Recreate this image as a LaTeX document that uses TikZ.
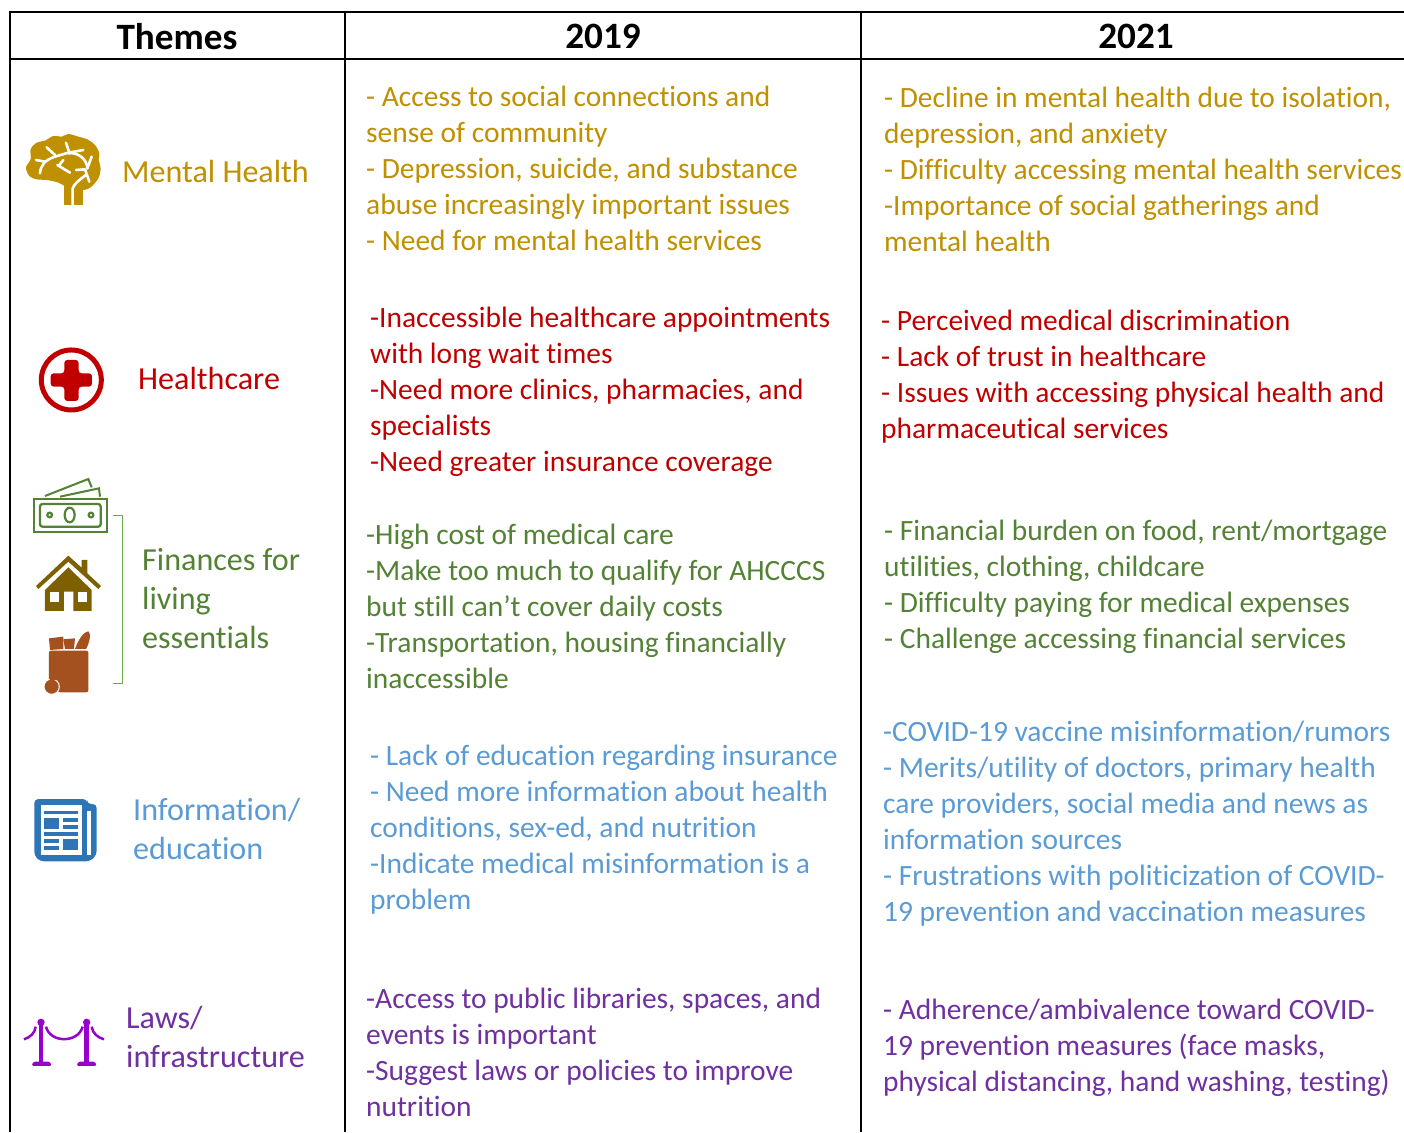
\documentclass[tikz,border=0pt]{standalone}
\usepackage{fontspec}
\setmainfont[Ligatures=NoCommon]{Carlito}
\definecolor{cgold}{HTML}{BF9000}
\definecolor{cred}{HTML}{C00000}
\definecolor{cgreen}{HTML}{548235}
\definecolor{cblue}{HTML}{5B9BD5}
\definecolor{cpurple}{HTML}{7030A0}
\definecolor{ihouse}{HTML}{7F6000}
\definecolor{ibag}{HTML}{A5501F}
\definecolor{inews}{HTML}{2E75B6}
\definecolor{iropes}{HTML}{9900CC}
\definecolor{ibrack}{HTML}{70AD47}
\tikzset{
  rule/.style={line width=2pt,black},
  cell/.style={anchor=north west,inner sep=0pt,align=left,yshift=-0.5pt,font=\fontsize{29.45}{36.05}\selectfont},
  theme/.style={anchor=north west,inner sep=0pt,align=left,font=\fontsize{32.1}{39}\selectfont},
  head/.style={anchor=center,inner sep=0pt,font=\fontsize{37.2}{40}\selectfont\bfseries},
  iconzoomA/.style={shift={(0,110)},x=0.3333pt,y=-0.3333pt},
  iconzoomB/.style={shift={(0,470)},x=0.3333pt,y=-0.3333pt},
  iconzoomC/.style={shift={(0,780)},x=0.3333pt,y=-0.3333pt},
}
\begin{document}
\begin{tikzpicture}[x=1pt,y=-1pt]
\useasboundingbox (0,0) rectangle (1404,1132);
\fill[white] (0,0) rectangle (1404,1132);
% table rules
\draw[rule] (10,12) -- (1404,12);
\draw[rule] (10,59) -- (1404,59);
\draw[rule] (10,11) -- (10,1132);
\draw[rule] (345,11) -- (345,1132);
\draw[rule] (861,11) -- (861,1132);
% headers
\node[head] (hThemes) at (177,36.5) {Themes};
\node[head] (h2019) at (603,36.5) {2019};
\node[head] (h2021) at (1136,36.5) {2021};
% theme labels
\node[theme,text=cgold] (tMental) at (122,160) {Mental Health};
\node[theme,text=cred] (tHealth) at (138,367) {Healthcare};
\node[theme,text=cgreen] (tFin) at (142,548) {Finances for\\living\\essentials};
\node[theme,text=cblue] (tInfo) at (133,797.5) {Information/\\education};
\node[theme,text=cpurple] (tLaws) at (126,1005.5) {Laws/\\infrastructure};
% 2019
\node[cell,text=cgold] (a1) at (366,85) {- Access to social connections and\\sense of community\\- Depression, suicide, and substance\\abuse increasingly important issues\\- Need for mental health services};
\node[cell,text=cred] (a2) at (370,306) {-Inaccessible healthcare appointments\\with long wait times\\-Need more clinics, pharmacies, and\\specialists\\-Need greater insurance coverage};
\node[cell,text=cgreen] (a3) at (366,523) {-High cost of medical care\\-Make too much to qualify for AHCCCS\\but still can’t cover daily costs\\-Transportation, housing financially\\inaccessible};
\node[cell,text=cblue] (a4) at (370,744) {- Lack of education regarding insurance\\- Need more information about health\\conditions, sex-ed, and nutrition\\-Indicate medical misinformation is a\\problem};
\node[cell,text=cpurple] (a5) at (366,987) {-Access to public libraries, spaces, and\\events is important\\-Suggest laws or policies to improve\\nutrition};
% 2021
\node[cell,text=cgold] (b1) at (884,86) {- Decline in mental health due to isolation,\\depression, and anxiety\\- Difficulty accessing mental health services\\-Importance of social gatherings and\\mental health};
\node[cell,text=cred] (b2) at (881,309) {- Perceived medical discrimination\\- Lack of trust in healthcare\\- Issues with accessing physical health and\\pharmaceutical services};
\node[cell,text=cgreen] (b3) at (884,519) {- Financial burden on food, rent/mortgage\\utilities, clothing, childcare\\- Difficulty paying for medical expenses\\- Challenge accessing financial services};
\node[cell,text=cblue] (b4) at (883,720) {-COVID-19 vaccine misinformation/rumors\\- Merits/utility of doctors, primary health\\care providers, social media and news as\\information sources\\- Frustrations with politicization of COVID-\\19 prevention and vaccination measures};
\node[cell,text=cpurple] (b5) at (883,998) {- Adherence/ambivalence toward COVID-\\19 prevention measures (face masks,\\physical distancing, hand washing, testing)};
% brain
\begin{scope}[iconzoomA]
\fill[cgold] plot[smooth cycle,tension=0.55] coordinates {(110,208)(88,198)(78,172)(92,148)(92,118)(110,98)(135,92)(160,78)(185,80)(205,72)(235,80)(262,88)(285,105)(298,130)(296,150)(302,175)(295,205)(272,232)(250,240)(215,238)(175,218)(140,210)};
\fill[cgold] (191,215) rectangle (248,285);
\begin{scope}[white,line width=2.6pt,line cap=round,line join=round]
\draw (120,190) .. controls (122,165) and (135,150) .. (165,140) -- (205,128) -- (250,120);
\draw (108,150) -- (135,155);
\draw (140,112) -- (165,135);
\draw (198,98) -- (208,128);
\draw (205,130) .. controls (235,125) and (262,150) .. (262,175);
\draw (275,140) -- (262,175);
\draw (172,165) -- (210,188);
\draw (190,150) -- (178,165);
\draw (228,180) -- (255,178) -- (268,215);
\draw (218,285) -- (218,235) .. controls (222,222) and (240,208) .. (258,195);
\end{scope}
% healthcare cross
\draw[cred,line width=5pt] (214,810) circle[radius=90];
\fill[cred,rounded corners=3pt] (193,750) -- (236,750) -- (236,790) -- (276,790) -- (276,830) -- (236,830) -- (236,873) -- (193,873) -- (193,830) -- (152,830) -- (152,790) -- (193,790) -- cycle;
\end{scope}
% finance icons
\begin{scope}[iconzoomB]
\draw[cgreen,line width=2.1pt] (101,88) rectangle (322,186);
\draw[cgreen,line width=2.3pt,rounded corners=2.5pt] (120,102) rectangle (302,170);
\draw[cgreen,line width=2.2pt] (149,135) circle[radius=7];
\draw[cgreen,line width=2.2pt] (273,135) circle[radius=7];
\draw[cgreen,line width=2.2pt] (209,135) ellipse[x radius=15,y radius=22];
\draw[cgreen,line width=2pt] (135,78) -- (265,27) -- (275,52);
\draw[cgreen,line width=2pt] (180,80) -- (297,55) -- (300,80);
\fill[ihouse] (108,348) -- (205,257) -- (245,293) -- (245,270) -- (262,270) -- (262,310) -- (303,348) -- (295,357) -- (205,275) -- (115,357) -- cycle;
\fill[ihouse] (135,360) -- (205,292) -- (275,360) -- (275,423) -- (220,423) -- (220,365) -- (192,365) -- (192,423) -- (135,423) -- cycle;
\fill[white] (149,365) rectangle (177,395);
\fill[white] (234,365) rectangle (262,395);
\fill[ibag] (147,505) -- (190,500) -- (190,537) -- (150,540) -- cycle;
\fill[ibag] (190,508) -- (225,505) -- (222,537) -- (195,537) -- cycle;
\fill[ibag] (225,537) .. controls (235,510) and (250,485) .. (265,484) .. controls (275,490) and (268,520) .. (258,537) -- cycle;
\fill[ibag,rounded corners=2pt] (147,542) -- (265,542) -- (265,667) -- (175,667) -- (147,640) -- cycle;
\draw[white,line width=1pt,fill=ibag] (155,650) circle[radius=23];
\fill[ibag] (147,618) -- (170,615) -- (172,630) -- (150,632) -- cycle;
\draw[ibrack,line width=1pt] (340,137) -- (367,137) -- (367,641) -- (340,641);
\end{scope}
% newspaper and stanchions
\begin{scope}[iconzoomC]
\fill[inews,rounded corners=4pt] (103,57) -- (261,57) -- (261,72) -- (290,72) -- (290,225) -- (270,244) -- (120,244) -- (103,227) -- cycle;
\fill[white] (122,75) rectangle (245,225);
\fill[white] (261,92) rectangle (272,225);
\fill[inews] (132,92) rectangle (235,103);
\fill[inews] (132,114) rectangle (177,147);
\fill[inews] (188,114) rectangle (235,125);
\fill[inews] (188,135) rectangle (235,147);
\fill[inews] (132,156) rectangle (235,167);
\fill[inews] (132,178) rectangle (177,188);
\fill[inews] (132,199) rectangle (177,210);
\fill[inews] (188,178) rectangle (235,210);
\fill[iropes] (123,727) circle[radius=11];
\fill[iropes] (260,727) circle[radius=11];
\fill[iropes] (116,727) rectangle (130,848);
\fill[iropes] (253,727) rectangle (267,848);
\fill[iropes,rounded corners=1.5pt] (95,858) -- (100,845) -- (150,845) -- (155,858) -- cycle;
\fill[iropes,rounded corners=1.5pt] (230,858) -- (235,845) -- (285,845) -- (290,858) -- cycle;
\draw[iropes,line width=2.5pt] (138,740) .. controls (150,790) and (235,790) .. (248,740);
\draw[iropes,line width=2.5pt] (107,740) .. controls (105,760) and (90,772) .. (72,778);
\draw[iropes,line width=2.5pt] (275,740) .. controls (278,760) and (292,772) .. (312,778);
\end{scope}
\end{tikzpicture}
\end{document}
